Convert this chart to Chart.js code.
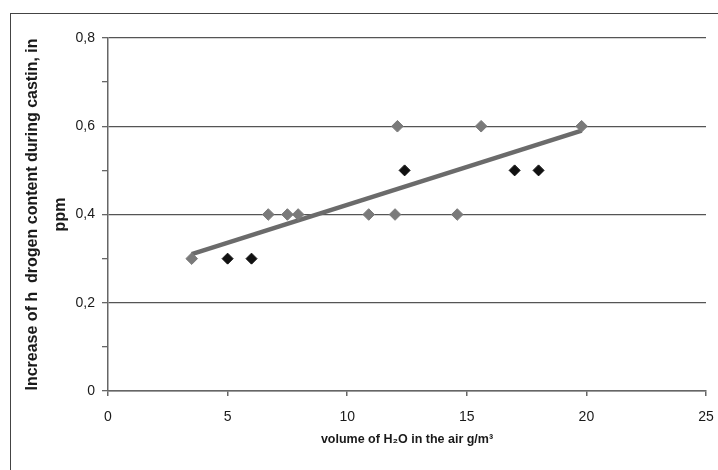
<!DOCTYPE html>
<html>
<head>
<meta charset="utf-8">
<script src="https://cdn.jsdelivr.net/npm/chart.js@4"></script>
<style>
  html, body { margin: 0; padding: 0; background: #fff; }
  #wrap { position: relative; width: 718px; height: 470px; overflow: hidden; }
  #frame { position: absolute; left: 10px; top: 13px; width: 760px; height: 500px;
           border-left: 1.5px solid #444; border-top: 1.5px solid #444; }
  canvas { position: absolute; left: 0; top: 0; }
</style>
</head>
<body>
<div id="wrap">
  <div id="frame"></div>
  <canvas id="chart" width="718" height="470"></canvas>
</div>
<script>
    // gray diamonds
    const grayX = [3.5, 6.7, 7.5, 7.95, 10.9, 12.0, 12.1, 14.6, 15.6, 19.8];
    const grayY = [0.3, 0.4, 0.4, 0.4, 0.4, 0.4, 0.6, 0.4, 0.6, 0.6];
    // black diamonds
    const blackX = [5.0, 6.0, 12.4, 17.0, 18.0];
    const blackY = [0.3, 0.3, 0.5, 0.5, 0.5];
    // trend line ends
    const trendX = [3.5, 19.8];
    const trendY = [0.31, 0.59];

    const xTicks = [0, 5, 10, 15, 20, 25];
    const yTitle = ['Increase of h  drogen content during castin, in', 'ppm'];
    const xTitle = 'volume of H\u2082O in the air g/m\u00B3';

    const toPoints = (xs, ys) => xs.map((x, i) => ({ x: x, y: ys[i] }));
    const isMajor = v => Math.round(v * 10) % 2 === 0;

    Chart.defaults.font.family = '"Liberation Sans", Arial, sans-serif';
    Chart.defaults.color = '#1a1a1a';

    new Chart(document.getElementById('chart').getContext('2d'), {
        type: 'scatter',
        data: {
            datasets: [{
                type: 'line',
                data: toPoints(trendX, trendY),
                borderColor: '#6b6b6b',
                borderWidth: 4.5,
                pointRadius: 0,
                fill: false,
                order: 3
            }, {
                data: toPoints(grayX, grayY),
                pointStyle: 'rectRot',
                pointRadius: 5.8,
                backgroundColor: '#7a7a7a',
                borderColor: '#7a7a7a',
                order: 2
            }, {
                data: toPoints(blackX, blackY),
                pointStyle: 'rectRot',
                pointRadius: 5.5,
                backgroundColor: '#111',
                borderColor: '#111',
                order: 1
            }]
        },
        options: {
            responsive: false,
            animation: false,
            layout: { padding: { top: 38, right: 12, left: 0, bottom: 0 } },
            plugins: { legend: { display: false }, tooltip: { enabled: false } },
            scales: {
                x: {
                    type: 'linear',
                    min: 0,
                    max: 25,
                    afterBuildTicks: scale => { scale.ticks = xTicks.map(v => ({ value: v })); },
                    afterFit: scale => {
                        scale.height = 79;
                        scale.paddingLeft = 0;
                        scale.paddingRight = 0;
                    },
                    border: { color: '#666', width: 1.5 },
                    grid: { drawOnChartArea: false, drawTicks: true, tickLength: 5, color: '#666', lineWidth: 1.5 },
                    ticks: { font: { size: 14 }, padding: 13, color: '#1a1a1a' },
                    title: {
                        display: true,
                        text: xTitle,
                        font: { size: 12.5, weight: 'bold' },
                        padding: { top: 0, bottom: 23 },
                        color: '#1a1a1a'
                    }
                },
                y: {
                    min: 0,
                    max: 0.8,
                    afterFit: scale => { scale.width = 108; },
                    border: { color: '#666', width: 1.5 },
                    grid: {
                        color: ctx => isMajor(ctx.tick.value) ? '#555' : 'rgba(0,0,0,0)',
                        tickColor: '#666',
                        lineWidth: 1.3,
                        tickLength: 6
                    },
                    ticks: {
                        stepSize: 0.1,
                        padding: 7,
                        font: { size: 14 },
                        color: '#1a1a1a',
                        callback: v => isMajor(v) ? (v === 0 ? '0' : v.toFixed(1).replace('.', ',')) : ''
                    },
                    title: {
                        display: true,
                        text: yTitle,
                        font: { size: 16, weight: 'bold', lineHeight: 1.72 },
                        padding: { top: 19, bottom: 0 },
                        color: '#1a1a1a'
                    }
                }
            }
        }
    });
</script>
</body>
</html>
